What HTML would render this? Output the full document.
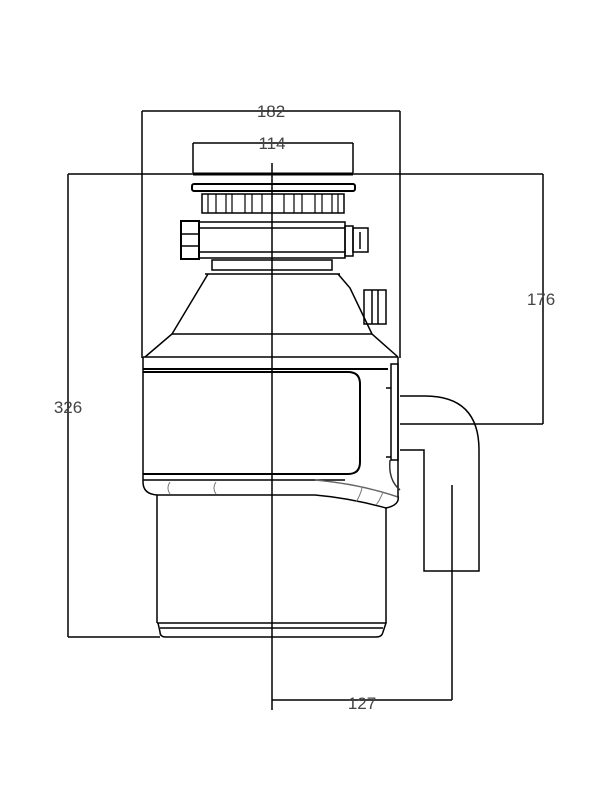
<!DOCTYPE html>
<html><head><meta charset="utf-8"><style>
html,body{margin:0;padding:0;background:#fff;}
svg{display:block}
text{font-family:"Liberation Sans",sans-serif;font-size:17px;fill:#444;text-anchor:middle;}
</style></head><body>
<svg width="600" height="800" viewBox="0 0 600 800" xmlns="http://www.w3.org/2000/svg">
<g fill="none" stroke="#000" stroke-width="1.5">
<!-- dimension lines -->
<line x1="142" y1="111" x2="400" y2="111"/>
<line x1="142" y1="111" x2="142" y2="358"/>
<line x1="400" y1="111" x2="400" y2="358"/>
<line x1="193" y1="143" x2="353" y2="143"/>
<line x1="193" y1="143" x2="193" y2="173"/>
<line x1="353" y1="143" x2="353" y2="173"/>
<line x1="68" y1="174" x2="543" y2="174"/>
<line x1="68" y1="174" x2="68" y2="637"/>
<line x1="68" y1="637" x2="160" y2="637"/>
<line x1="543" y1="174" x2="543" y2="424"/>
<line x1="400" y1="424" x2="543" y2="424"/>
<line x1="272" y1="163" x2="272" y2="710"/>
<line x1="272" y1="700" x2="452" y2="700"/>
<line x1="452" y1="485" x2="452" y2="700"/>
<!-- top flange -->
<line x1="193" y1="174" x2="353" y2="174" stroke-width="3"/>
<rect x="192" y="184" width="163" height="7" rx="2" stroke-width="2"/>
<rect x="202" y="194" width="142" height="19"/>
<g stroke-width="1.2">
<line x1="208" y1="194" x2="208" y2="213"/><line x1="216" y1="194" x2="216" y2="213"/>
<line x1="226" y1="194" x2="226" y2="213"/><line x1="232" y1="194" x2="232" y2="213"/>
<line x1="245" y1="194" x2="245" y2="213"/><line x1="252" y1="194" x2="252" y2="213"/>
<line x1="262" y1="194" x2="262" y2="213"/><line x1="284" y1="194" x2="284" y2="213"/>
<line x1="294" y1="194" x2="294" y2="213"/><line x1="302" y1="194" x2="302" y2="213"/>
<line x1="315" y1="194" x2="315" y2="213"/><line x1="322" y1="194" x2="322" y2="213"/>
<line x1="332" y1="194" x2="332" y2="213"/><line x1="338" y1="194" x2="338" y2="213"/>
</g>
<!-- collar -->
<rect x="199" y="222" width="146" height="36"/>
<line x1="199" y1="228" x2="345" y2="228"/>
<line x1="199" y1="252" x2="345" y2="252"/>
<rect x="181" y="221" width="18" height="38" stroke-width="2"/>
<line x1="181" y1="234" x2="199" y2="234"/><line x1="181" y1="246" x2="199" y2="246"/>
<rect x="345" y="226" width="8" height="30"/>
<rect x="353" y="228" width="15" height="24"/>
<line x1="360" y1="232" x2="360" y2="249"/>
<!-- neck & cone -->
<rect x="212" y="260" width="120" height="10"/>
<line x1="205" y1="274" x2="340" y2="274"/>
<path d="M208 274 L172 334 L145 357 M338 274 L350 288 L372 334 L398 357"/>
<line x1="172" y1="334" x2="372" y2="334"/>
<rect x="364" y="290" width="22" height="34"/>
<line x1="372" y1="290" x2="372" y2="324"/><line x1="378" y1="290" x2="378" y2="324"/>
<!-- main body -->
<line x1="143" y1="357" x2="398" y2="357"/>
<line x1="143" y1="369" x2="388" y2="369" stroke-width="2"/>
<path d="M143 357 L143 482 Q143 494 157 495"/>
<path d="M143 372 L348 372 Q360 372 360 384 L360 462 Q360 474 348 474 L143 474" stroke-width="2"/>
<line x1="143" y1="480" x2="345" y2="480"/>
<line x1="157" y1="495" x2="315" y2="495"/>
<path d="M315 480 Q360 484 398 497" stroke="#666"/>
<path d="M315 495 Q350 498 386 508 Q400 505 398 496 L398 357" />
<path d="M390 460 Q388 480 400 490" stroke="#333"/>
<path d="M170 482 Q166 488 170 494 M216 482 Q212 488 216 494 M362 488 Q360 496 356 502 M383 492 Q380 500 376 505" stroke="#777" stroke-width="1"/>
<rect x="391" y="364" width="7" height="96" stroke-width="1.5"/>
<line x1="386" y1="388" x2="391" y2="388"/><line x1="386" y1="457" x2="391" y2="457"/>
<!-- lower cylinder -->
<path d="M157 495 L157 623 M386 508 L386 623"/>
<path d="M157 623 L386 623 L383 632 Q382 637 376 637 L166 637 Q160 637 160 632 L158 623"/>
<line x1="160" y1="628" x2="383" y2="628"/>
<!-- elbow -->
<path d="M400 396 L425 396 Q479 396 479 450 L479 571 L424 571 L424 450 L400 450"/>
</g>
<text x="271" y="117">182</text>
<text x="272" y="149">114</text>
<text x="68" y="413">326</text>
<text x="541" y="305">176</text>
<text x="362" y="709">127</text>
</svg>
</body></html>
